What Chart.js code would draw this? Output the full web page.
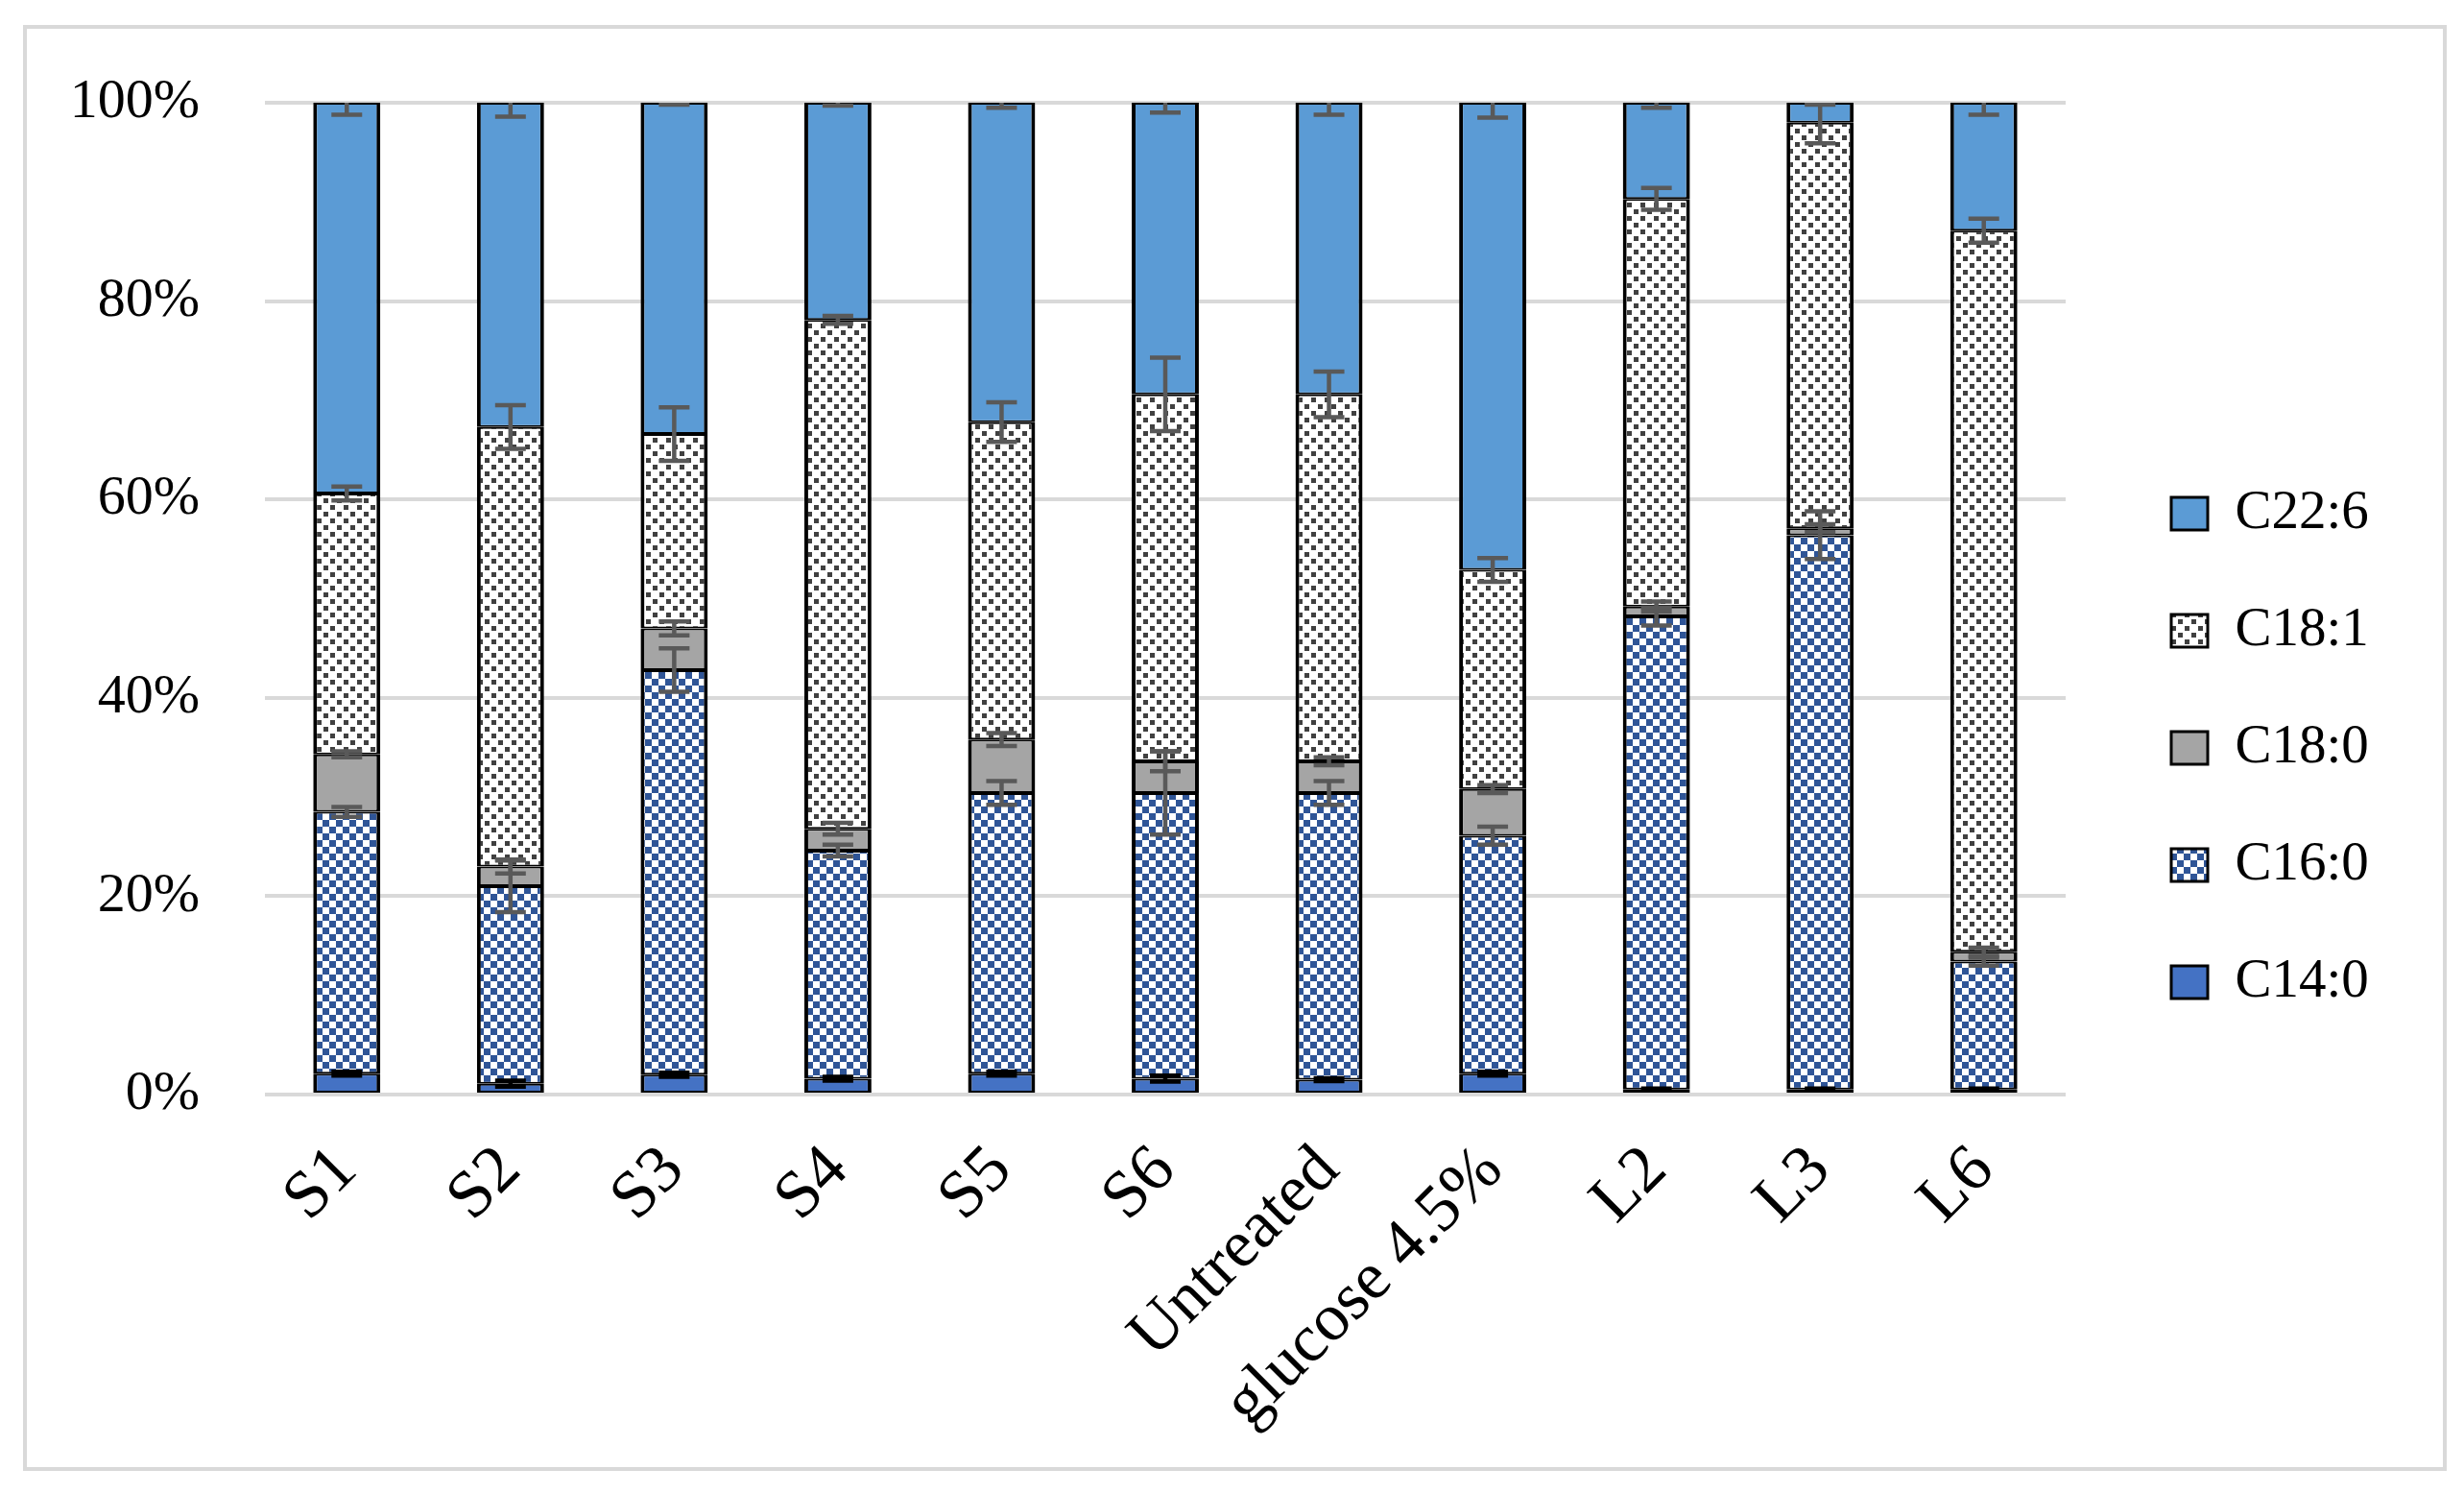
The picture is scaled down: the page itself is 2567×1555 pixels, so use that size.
<!DOCTYPE html>
<html>
<head>
<meta charset="utf-8">
<script src="https://cdn.jsdelivr.net/npm/chart.js@4.4.1/dist/chart.umd.min.js"></script>
<style>
html,body{margin:0;padding:0;background:#fff;}
#wrap{position:absolute;left:0;top:0;width:2567px;height:1555px;}
#frame{position:absolute;left:24px;top:26px;width:2517px;height:1498px;border:4px solid #D9D9D9;}
#c{position:absolute;left:0;top:0;}
</style>
</head>
<body>
<div id="wrap"><div id="frame"></div><canvas id="c" width="2567" height="1555"></canvas></div>
<script>
// ---- data (percent of total fatty acids) ----
const categories = ["S1","S2","S3","S4","S5","S6","Untreated","glucose 4.5%","L2","L3","L6"];
const seriesNames = ["C14:0","C16:0","C18:0","C18:1","C22:6"];
const c14_0 = [2.1, 1.1, 2.0, 1.6, 2.1, 1.6, 1.5, 2.1, 0.5, 0.5, 0.5];
const c16_0 = [26.4, 19.9, 40.8, 23.0, 28.3, 28.8, 28.9, 24.0, 47.7, 55.9, 12.9];
const c18_0 = [5.8, 2.0, 4.2, 2.2, 5.4, 3.2, 3.2, 4.7, 1.0, 0.7, 1.0];
const c18_1 = [26.3, 44.3, 19.6, 51.3, 32.0, 37.0, 37.0, 22.1, 41.1, 40.9, 72.7];
const c22_6 = [39.4, 32.7, 33.4, 21.9, 32.2, 29.4, 29.4, 47.1, 9.7, 2.0, 12.9];
// error bar half-widths (SD)
const c14_0_err = [0.2, 0.3, 0.2, 0.2, 0.2, 0.3, 0.15, 0.2, 0.1, 0.1, 0.1];
const c16_0_err = [0.5, 2.6, 2.2, 0.6, 1.2, 4.2, 1.2, 0.9, 0.9, 2.4, 0.4];
const c18_0_err = [0.3, 0.7, 0.7, 0.6, 0.65, 1.0, 0.4, 0.4, 0.5, 0.4, 0.4];
const c18_1_err = [0.7, 2.2, 2.7, 0.4, 2.0, 3.7, 2.3, 1.2, 1.1, 2.1, 1.2];
const c22_6_err = [1.2, 1.4, 0.2, 0.3, 0.5, 1.0, 1.2, 1.5, 0.5, 0.2, 1.2];
const yTicks = [0, 20, 40, 60, 80, 100];

// ---- patterns ----
const pctx = document.createElement('canvas').getContext('2d');
function checkerPattern(){
  const c = document.createElement('canvas'); c.width = 14; c.height = 14;
  const x = c.getContext('2d');
  x.fillStyle = '#ffffff'; x.fillRect(0,0,14,14);
  x.fillStyle = '#2F5597'; x.fillRect(0,0,7,7); x.fillRect(7,7,7,7);
  return pctx.createPattern(c,'repeat');
}
function dotPattern(){
  const c = document.createElement('canvas'); c.width = 14; c.height = 14;
  const x = c.getContext('2d');
  x.fillStyle = '#ffffff'; x.fillRect(0,0,14,14);
  x.fillStyle = '#404040'; x.fillRect(1,1,5,5); x.fillRect(8,8,5,5);
  return pctx.createPattern(c,'repeat');
}

const FONT = "'Liberation Serif', 'Times New Roman', serif";
const values = [c14_0, c16_0, c18_0, c18_1, c22_6];
const errors = [c14_0_err, c16_0_err, c18_0_err, c18_1_err, c22_6_err];
const fills = ['#4472C4', checkerPattern(), '#A5A5A5', dotPattern(), '#5B9BD5'];
const errColors = ['#000000', '#595959', '#595959', '#595959', '#595959'];

const datasets = seriesNames.map((n, i) => ({
  label: n,
  data: values[i],
  backgroundColor: fills[i],
  borderColor: '#000000',
  borderWidth: {left: 4, right: 4, top: 2, bottom: 2},
  borderSkipped: false,
  barPercentage: 0.41,
  categoryPercentage: 1.0,
  errs: errors[i],
  errColor: errColors[i]
}));

const errorBars = {
  id: 'errorBars',
  afterDatasetsDraw(chart) {
    const {ctx, chartArea} = chart;
    const ys = chart.scales.y;
    ctx.save();
    ctx.beginPath();
    ctx.rect(chartArea.left, chartArea.top, chartArea.right - chartArea.left, chartArea.bottom - chartArea.top);
    ctx.clip();
    ctx.lineWidth = 4.5;
    const cum = categories.map(() => 0);
    chart.data.datasets.forEach((ds, di) => {
      const meta = chart.getDatasetMeta(di);
      ctx.strokeStyle = ds.errColor;
      ds.data.forEach((v, j) => {
        cum[j] += v;
        const e = ds.errs[j];
        const x = meta.data[j].x;
        const y1 = ys.getPixelForValue(cum[j] + e);
        const y2 = ys.getPixelForValue(cum[j] - e);
        const hw = 16;
        ctx.beginPath();
        ctx.moveTo(x, y1); ctx.lineTo(x, y2);
        ctx.moveTo(x - hw, y1); ctx.lineTo(x + hw, y1);
        ctx.moveTo(x - hw, y2); ctx.lineTo(x + hw, y2);
        ctx.stroke();
      });
    });
    ctx.restore();
  }
};

const chart = new Chart(document.getElementById('c'), {
  type: 'bar',
  data: { labels: categories, datasets },
  plugins: [errorBars],
  options: {
    responsive: false,
    animation: false,
    devicePixelRatio: 1,
    layout: { padding: { top: 30, bottom: 27, left: 0, right: 60 } },
    plugins: {
      tooltip: { enabled: false },
      legend: {
        position: 'right',
        reverse: true,
        align: 'center',
        labels: {
          boxWidth: 38,
          boxHeight: 34,
          padding: 65,
          color: '#000',
          font: { family: FONT, size: 57 }
        }
      }
    },
    scales: {
      x: {
        stacked: true,
        grid: { display: false },
        border: { display: false },
        ticks: {
          color: '#000',
          font: { family: FONT, size: 70 },
          minRotation: 45,
          maxRotation: 45,
          autoSkip: false,
          padding: 30
        },
        afterFit: s => { s.height = 388; }
      },
      xTop: {
        type: 'category',
        position: 'top',
        display: true,
        grid: { display: false },
        border: { display: false },
        ticks: { display: false },
        afterFit: s => { s.height = 77; }
      },
      y: {
        stacked: true,
        min: 0,
        max: 100,
        afterBuildTicks: s => { s.ticks = yTicks.map(v => ({ value: v })); },
        grid: { color: '#D9D9D9', lineWidth: 4, drawTicks: false },
        border: { display: false },
        ticks: {
          color: '#000',
          font: { family: FONT, size: 58 },
          padding: 68,
          callback: v => v + '%'
        },
        afterFit: s => { s.width = 276; }
      },
      yRight: {
        type: 'linear',
        position: 'right',
        display: true,
        grid: { display: false },
        border: { display: false },
        ticks: { display: false },
        afterFit: s => { s.width = 45; }
      }
    }
  }
});
// place the legend so its items start at the intended x
const W = chart.legend.width;
chart.options.layout.padding.right = 2567 - 2197 - W;
chart.update('none');
</script>
</body>
</html>
